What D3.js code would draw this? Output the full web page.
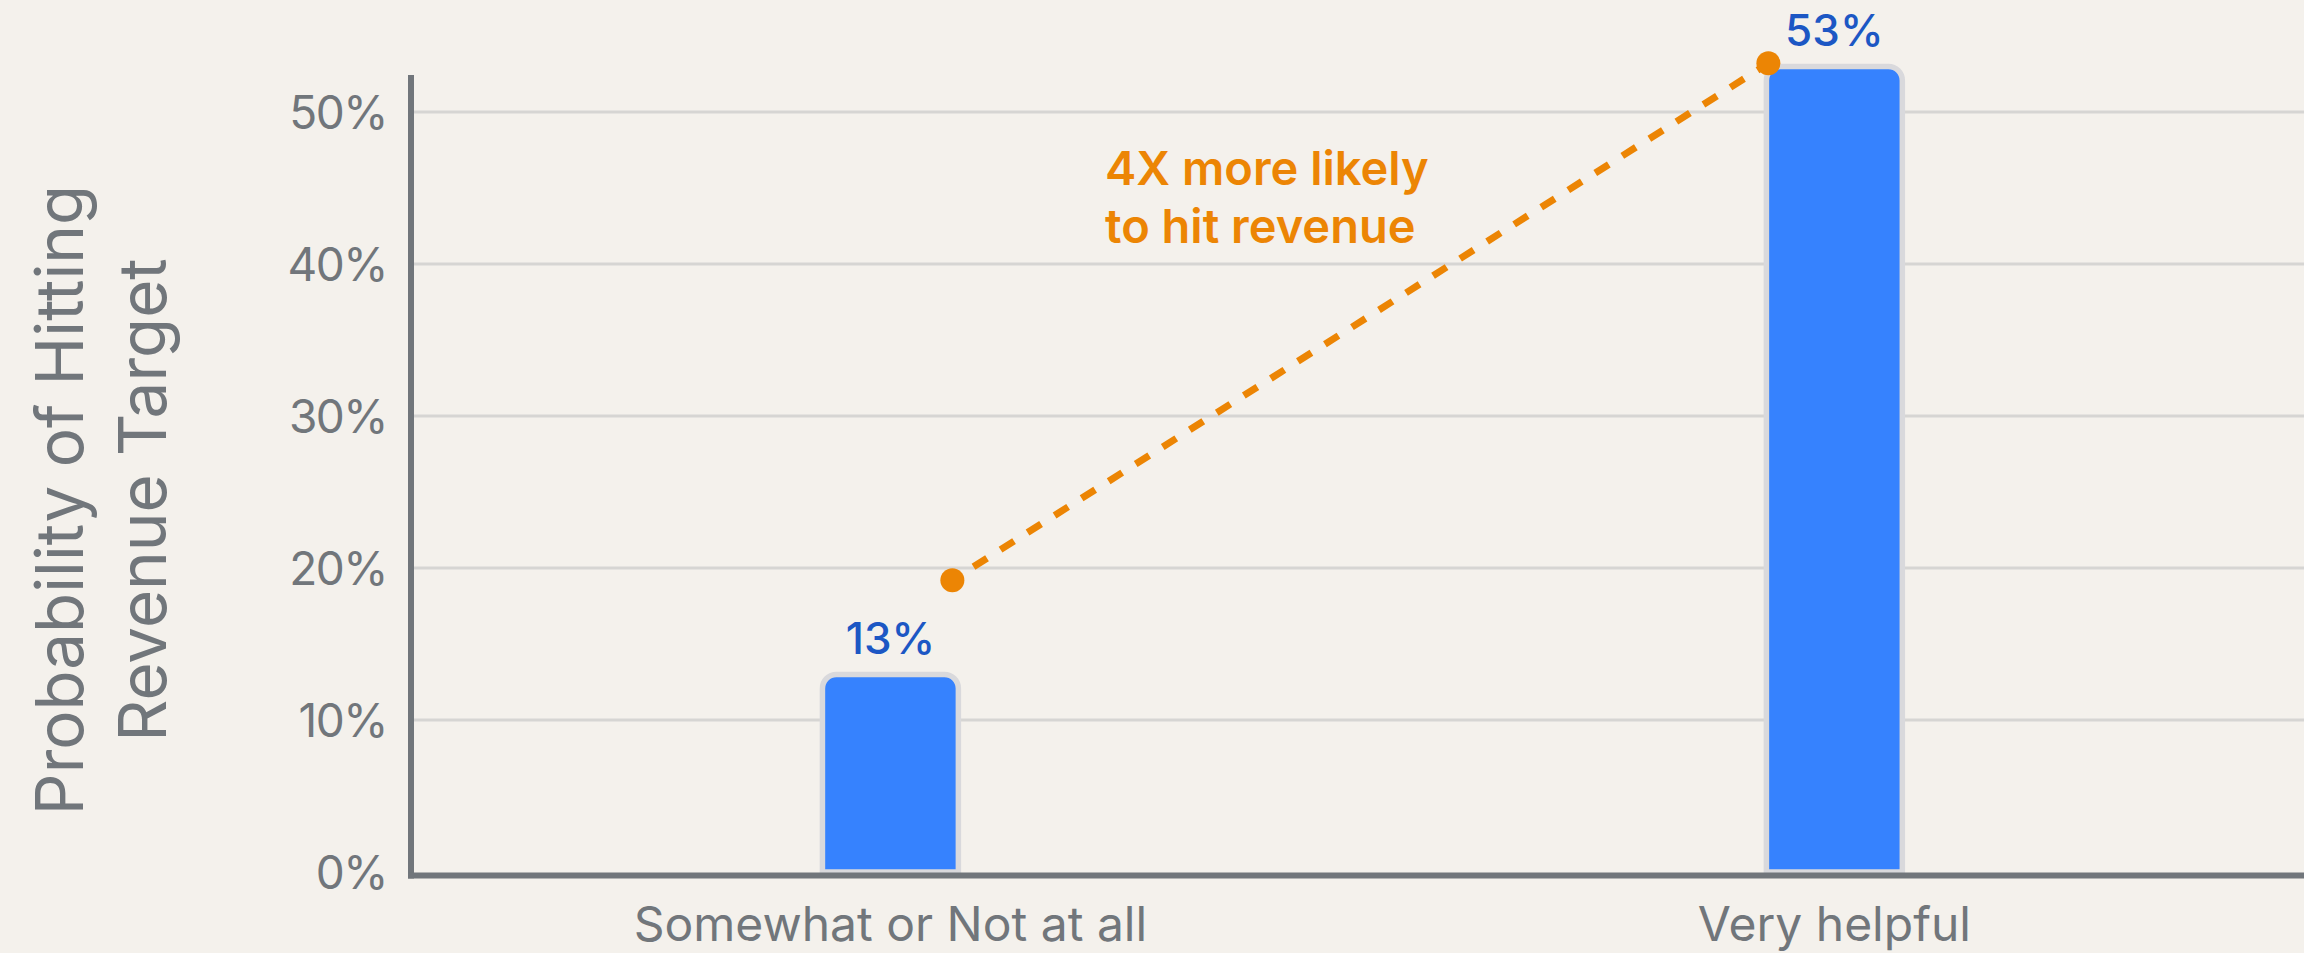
<!DOCTYPE html>
<html>
<head>
<meta charset="utf-8">
<script src="https://cdn.jsdelivr.net/npm/d3@7"></script>
<style>
  html, body { margin: 0; padding: 0; background: #f4f1ec; }
  svg { display: block; }
  text { font-family: Inter, "Noto Sans", sans-serif; }
</style>
</head>
<body>
<svg id="chart" width="2304" height="953"></svg>
<script>
// Share of respondents hitting their revenue target, by how helpful they rated the tool
const categories = ["Somewhat or Not at all", "Very helpful"];
const values = [13, 53];
const yTicks = [0, 10, 20, 30, 40, 50];
const yTitleLines = ["Probability of Hitting", "Revenue Target"];

// Callout connecting the two groups
const calloutLines = ["4X more likely", "to hit revenue"];
const calloutValues = [19.2, 53.2];

const W = 2304, H = 953;
const plot = { left: 411, right: 2304, top: 75, bottom: 872 };

const svg = d3.select("#chart");
svg.append("rect").attr("width", W).attr("height", H).attr("fill", "#f4f1ec");

const x = d3.scaleBand()
  .domain(categories)
  .range([plot.left, plot.right])
  .paddingInner(0.856)
  .paddingOuter(0.4307)
  .align(0.506);

const y = d3.scaleLinear()
  .domain([0, 50])
  .range([plot.bottom, 112]);

const gray = "#71767b";

// Horizontal gridlines
svg.append("g")
  .selectAll("line")
  .data(yTicks.filter(d => d > 0))
  .join("line")
  .attr("x1", plot.left + 3)
  .attr("x2", plot.right)
  .attr("y1", d => y(d))
  .attr("y2", d => y(d))
  .attr("stroke", "#d6d5d3")
  .attr("stroke-width", 3);

// Y tick labels via d3.axisLeft (domain line and tick marks hidden)
const yAxis = svg.append("g")
  .attr("transform", `translate(${plot.left - 24},0)`)
  .call(d3.axisLeft(y).tickValues(yTicks).tickFormat(d => d + "%").tickSize(0).tickPadding(0));
yAxis.select(".domain").remove();
yAxis.selectAll("text")
  .attr("fill", gray)
  .attr("font-size", 46)
  .attr("font-weight", 400)
  .attr("letter-spacing", -1.5)
  .attr("dy", "0.35em");

// Bars with rounded top corners
const r = 14;
function barPath(d, i) {
  const x0 = x(categories[i]), x1 = x0 + x.bandwidth();
  const yt = y(d), yb = y(0);
  return `M${x0},${yb} V${yt + r} A${r},${r} 0 0 1 ${x0 + r},${yt} H${x1 - r} A${r},${r} 0 0 1 ${x1},${yt + r} V${yb} Z`;
}
svg.append("g")
  .selectAll("path")
  .data(values)
  .join("path")
  .attr("d", barPath)
  .attr("fill", "#3682fe")
  .attr("stroke", "#d9d9dc")
  .attr("stroke-width", 5.5);

// Value labels
svg.append("g")
  .selectAll("text")
  .data(values)
  .join("text")
  .attr("x", (d, i) => x(categories[i]) + x.bandwidth() / 2)
  .attr("y", d => y(d) - 20)
  .attr("text-anchor", "middle")
  .attr("font-size", 44)
  .attr("font-weight", 500)
  .attr("fill", "#1c57c4")
  .text(d => d + "%");

// Axis lines
svg.append("line")
  .attr("x1", plot.left).attr("x2", plot.left)
  .attr("y1", plot.top).attr("y2", plot.bottom + 6.5)
  .attr("stroke", gray).attr("stroke-width", 6);
svg.append("line")
  .attr("x1", plot.left - 3).attr("x2", plot.right)
  .attr("y1", plot.bottom + 3.5).attr("y2", plot.bottom + 3.5)
  .attr("stroke", gray).attr("stroke-width", 6);

// Category labels
svg.append("g")
  .selectAll("text")
  .data(categories)
  .join("text")
  .attr("x", d => x(d) + x.bandwidth() / 2)
  .attr("y", plot.bottom + 69)
  .attr("text-anchor", "middle")
  .attr("font-size", 48)
  .attr("font-weight", 400)
  .attr("fill", gray)
  .text(d => d);

// Y axis title
const yTitle = svg.append("text")
  .attr("transform", "translate(83,500) rotate(-90)")
  .attr("text-anchor", "middle")
  .attr("font-size", 65.5)
  .attr("fill", gray);
yTitle.selectAll("tspan")
  .data(yTitleLines)
  .join("tspan")
  .attr("x", 0)
  .attr("dy", (d, i) => i === 0 ? 0 : 83)
  .text(d => d);

// Dashed callout line between the two groups
const orange = "#ec8504";
const calloutPts = calloutValues.map((v, i) => {
  const x0 = x(categories[i]);
  return [i === 0 ? x0 + x.bandwidth() - 6 : x0 + 2, y(v)];
});
svg.append("path")
  .attr("d", d3.line()(calloutPts))
  .attr("fill", "none")
  .attr("stroke", orange)
  .attr("stroke-width", 7)
  .attr("stroke-dasharray", "16,16")
  .attr("stroke-dashoffset", 7);
svg.append("g")
  .selectAll("circle")
  .data(calloutPts)
  .join("circle")
  .attr("cx", d => d[0])
  .attr("cy", d => d[1])
  .attr("r", 12)
  .attr("fill", orange);

// Callout text
const callout = svg.append("text")
  .attr("x", 1105)
  .attr("y", y(45.2))
  .attr("font-size", 47)
  .attr("font-weight", 600)
  .attr("fill", orange);
callout.selectAll("tspan")
  .data(calloutLines)
  .join("tspan")
  .attr("x", 1105)
  .attr("dy", (d, i) => i === 0 ? 0 : 58)
  .text(d => d);
</script>
</body>
</html>
